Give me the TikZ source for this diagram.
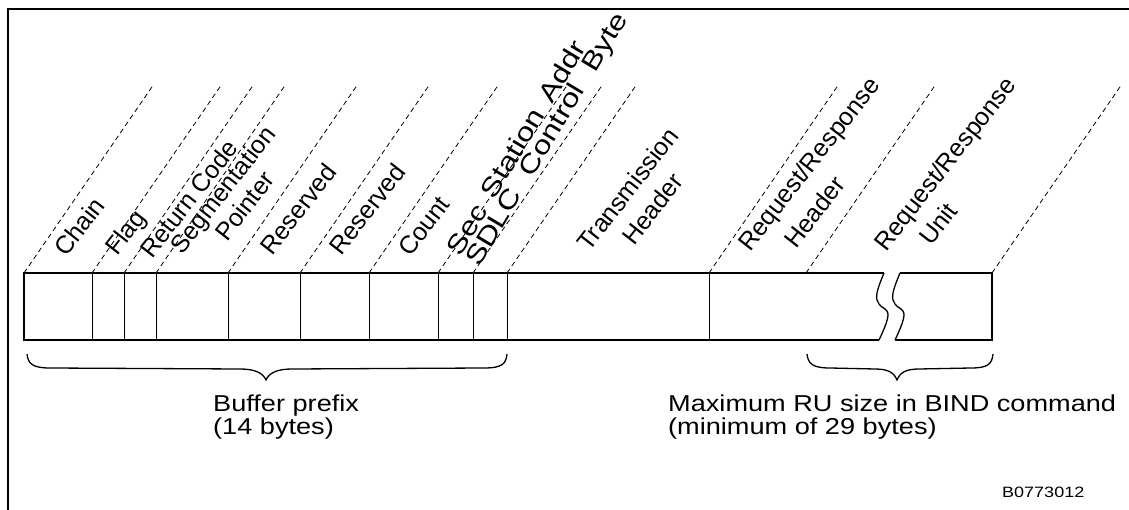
\documentclass[tikz,border=0pt]{standalone}
\usepackage{fontspec}
\setmainfont{Liberation Sans}
\usetikzlibrary{calc}
\begin{document}
\begin{tikzpicture}[x=1pt,y=-1pt,
  lbl/.style={font=\fontsize{25}{27}\selectfont, rotate=52, inner sep=0pt, anchor=base west},
  lblsteep/.style={font=\addfontfeature{FakeStretch=1.22}\fontsize{26}{28}\selectfont, rotate=59, inner sep=0pt, anchor=base west},
  btxt/.style={font=\addfontfeature{FakeStretch=1.18}\fontsize{23}{23}\selectfont, inner sep=0pt, anchor=base west},
  dl/.style={dash pattern=on 5pt off 3.5pt, line width=0.8pt},
  boxline/.style={line width=1.6pt, line join=miter},
  divline/.style={line width=1pt},
  bracestyle/.style={line width=1.3pt}]
\useasboundingbox (0,0) rectangle (1129,510);
% frame
\draw[line width=1.4pt] (8,510) -- (8,9) -- (1129,9);
% dashed leader lines
\foreach \xb [count=\i] in {24,92,124,156,228,300,369,438,473,507,709,806,992} {
  \coordinate (b\i) at (\xb,273);
  \coordinate (d\i) at (\xb,340);
  \coordinate (t\i) at ($(b\i)+(130,-189)$);
  \draw[dl] (b\i) -- (t\i);
}
% dividers
\foreach \i in {2,...,11} { \draw[divline] (b\i) -- (d\i); }
% box outline with break
\coordinate (bl1) at (884,273); \coordinate (bl2) at (879,340);
\coordinate (br1) at (900,273); \coordinate (br2) at (895,340);
\draw[boxline] (bl1) -- (b1) -- (d1) -- (bl2);
\draw[boxline] (br1) -- (b13) -- (d13) -- (br2);
\draw[line width=1.3pt] plot[smooth, tension=0.7] coordinates {(884,273) (877,293) (879,304) (888,315) (879,340)};
\draw[line width=1.3pt] plot[smooth, tension=0.7] coordinates {(900,273) (893,293) (895,304) (904,315) (895,340)};
% labels
\node[lbl] (lchain) at (66,258) {Chain};
\node[lbl] (lflag) at (117,257) {Flag};
\node[lbl] (lrc) at (152,260) {Return Code};
\node[lbl] (lseg) at (182,256) {Segmentation};
\node[lbl] (lptr) at (227,243) {Pointer};
\node[lbl] (lres1) at (272,257) {Reserved};
\node[lbl] (lres2) at (341,257) {Reserved};
\node[lbl] (lcount) at (410,258) {Count};
\node[lblsteep] (lsec) at (460,258) {\hbox to 246pt{Sec\hfil\ Station\hfil\ Addr}};
\node[lblsteep] (lsdlc) at (479,268) {\hbox to 290pt{SDLC\hfil\ Control\hfil\ Byte}};
\node[lbl] (lth1) at (589,253) {Transmission};
\node[lbl] (lth2) at (634,247) {Header};
\node[lbl] (lrh1) at (750,253) {Request/Response};
\node[lbl] (lrh2) at (796,250) {Header};
\node[lbl] (lru1) at (886,253) {Request/Response};
\node[lbl] (lru2) at (931,247) {Unit};
% braces
\draw[bracestyle] (27,354) .. controls (28,364) and (33,368) .. (50,368) -- (240,369)
  .. controls (255,369) and (263,373) .. (266,380)
  .. controls (269,373) and (277,369) .. (292,369) -- (484,368)
  .. controls (502,368) and (506,364) .. (507,354);
\draw[bracestyle] (807,354) .. controls (808,364) and (813,368) .. (830,368) -- (875,369)
  .. controls (889,369) and (894,373) .. (897,380)
  .. controls (900,373) and (905,369) .. (919,369) -- (971,368)
  .. controls (988,368) and (992,364) .. (993,354);
% bottom texts
\node[btxt] (tbuf1) at (213,411) {Buffer prefix};
\node[btxt] (tbuf2) at (213,434) {(14 bytes)};
\node[btxt] (tmax1) at (668,411) {Maximum RU size in BIND command};
\node[btxt] (tmax2) at (668,434) {(minimum of 29 bytes)};
\node[font=\addfontfeature{FakeStretch=1.2}\fontsize{15}{15}\selectfont, anchor=base west, inner sep=0pt] (tid) at (1002,497) {B0773012};
\end{tikzpicture}
\end{document}
